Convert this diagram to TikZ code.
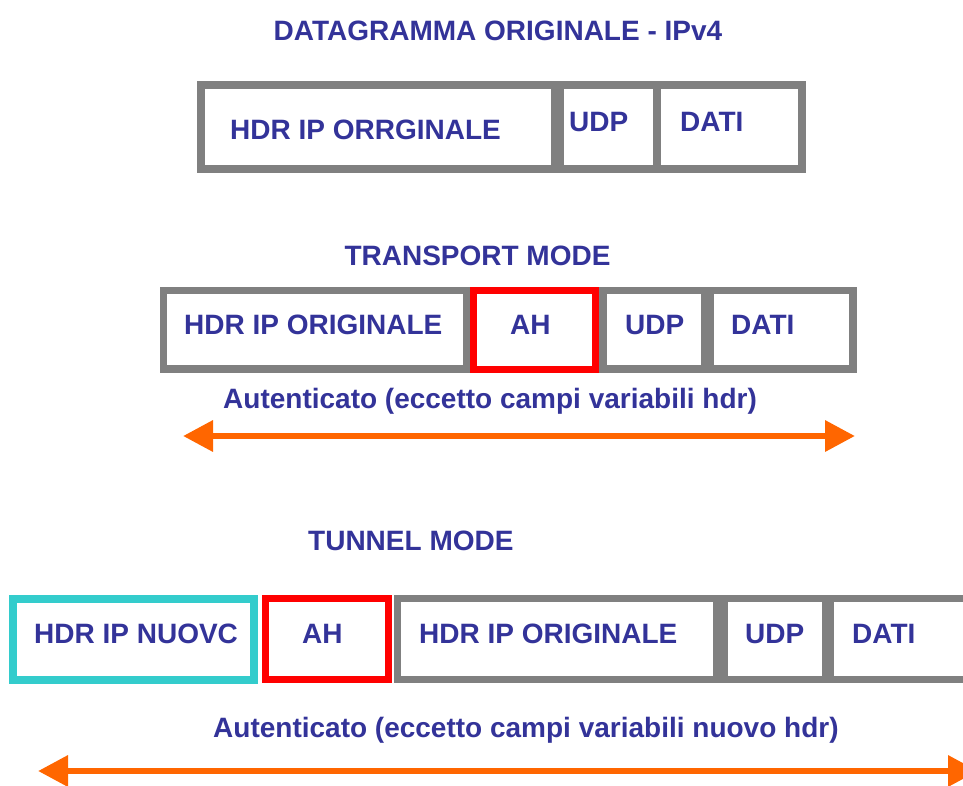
\documentclass[tikz,border=0pt]{standalone}
\usepackage{fontspec}
\setmainfont{Liberation Sans}
\usetikzlibrary{arrows.meta,fit}
\definecolor{txtblue}{HTML}{333399}
\definecolor{cellgray}{HTML}{808080}
\definecolor{ahred}{HTML}{FF0000}
\definecolor{newcyan}{HTML}{33CCCC}
\definecolor{spanorange}{HTML}{FF6600}
\begin{document}
\begin{tikzpicture}[x=1pt,y=-1pt,
  lbl/.style={font=\bfseries\fontsize{28}{32}\selectfont, text=txtblue, inner sep=0, anchor=base west},
  ttl/.style={lbl, anchor=base},
  cell/.style={draw=cellgray, line width=7.5pt, inner sep=0, outer sep=0},
  ahcell/.style={cell, draw=ahred, line width=7pt},
  newcell/.style={cell, draw=newcyan, line width=8pt},
  span/.style={draw=spanorange, line width=6.5pt,
    {Triangle[length=30pt,width=30pt]}-{Triangle[length=30pt,width=30pt]}}]
\useasboundingbox (0,0) rectangle (963,785);
\clip (0,0) rectangle (963,785);

% original IPv4 datagram
\node[ttl] (t1) at (498,40) {DATAGRAMMA ORIGINALE - IPv4};
\node[cell, fit={(201,85) (555,169)}] (o1hdr) {};
\node[cell, fit={(560,85) (657,169)}] (o1udp) {};
\node[cell, fit={(657,85) (802,169)}] (o1dati) {};
\node[lbl] (o1hdrt) at (230,139) {HDR IP ORRGINALE};
\node[lbl] (o1udpt) at (569,131) {UDP};
\node[lbl] (o1datit) at (680,131) {DATI};

% transport mode
\node[ttl] (t2) at (477.5,265) {TRANSPORT MODE};
\node[cell, fit={(163.5,290.5) (467,369)}] (t2hdr) {};
\node[cell, fit={(603,290.5) (705,369)}] (t2udp) {};
\node[cell, fit={(710,290.5) (853,369)}] (t2dati) {};
\node[ahcell, fit={(473.5,290.5) (595.5,369)}] (t2ah) {};
\node[lbl] (t2hdrt) at (184,334) {HDR IP ORIGINALE};
\node[lbl] (t2aht) at (510,334) {AH};
\node[lbl] (t2udpt) at (625,334) {UDP};
\node[lbl] (t2datit) at (731,334) {DATI};
\node[lbl] (t2auth) at (223,408) {Autenticato (eccetto campi variabili hdr)};
\coordinate (a1l) at (183,436);
\coordinate (a1r) at (855,436);
\draw[span] (a1l) -- (a1r);

% tunnel mode
\node[lbl] (t3) at (308,550) {TUNNEL MODE};
\node[newcell, fit={(13,598.5) (253.5,679.5)}] (n3new) {};
\node[ahcell, fit={(265.5,598.5) (388,679.5)}] (n3ah) {};
\node[cell, fit={(397.5,598.5) (716.5,679.5)}] (n3hdr) {};
\node[cell, fit={(724,598.5) (826,679.5)}] (n3udp) {};
\node[cell, fit={(830,598.5) (975,679.5)}] (n3dati) {};
\node[lbl] (n3newt) at (34,643) {HDR IP NUOVC};
\node[lbl] (n3aht) at (302,643) {AH};
\node[lbl] (n3hdrt) at (419,643) {HDR IP ORIGINALE};
\node[lbl] (n3udpt) at (745,643) {UDP};
\node[lbl] (n3datit) at (852,643) {DATI};
\node[lbl] (n3auth) at (213,737) {Autenticato (eccetto campi variabili nuovo hdr)};
\coordinate (a2l) at (38,771);
\coordinate (a2r) at (978,771);
\draw[span] (a2l) -- (a2r);
\end{tikzpicture}
\end{document}
